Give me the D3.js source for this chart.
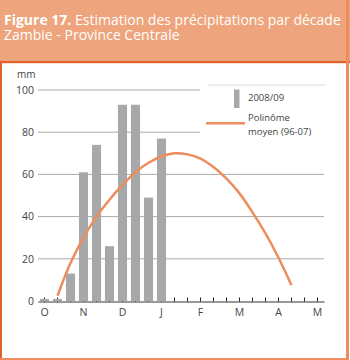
<!DOCTYPE html>
<html><head><meta charset="utf-8">
<script src="https://cdn.jsdelivr.net/npm/d3@7"></script>
<style>body{margin:0;background:#fff}svg{display:block}</style>
</head><body>
<script>
const dekads = ["O1","O2","O3","N1","N2","N3","D1","D2","D3","J1","J2","J3","F1","F2","F3","M1","M2","M3","A1","A2","A3","M1b"];
const monthLabels = {"O1":"O","N1":"N","D1":"D","J1":"J","F1":"F","M1":"M","A1":"A","M1b":"M"};
const rain2008 = [1,1,13,61,74,26,93,93,49,77,null,null,null,null,null,null,null,null,null,null,null,null];
const polyAvg = [null,2.5,18,30,40,48,55,61,65.5,68.5,70,69.5,67.5,63.5,58,51,42,32,20.5,7.5,null,null];
const yTicks = [0,20,40,60,80,100];
const titleBold = "Figure 17.";
const titleRest = " Estimation des précipitations par décade";
const titleLine2 = "Zambie - Province Centrale";
const legendLabels = ["2008/09","Polinôme","moyen (96-07)"];

const W=350,H=360;
const svg=d3.select("body").append("svg").attr("width",W).attr("height",H);
const font="'Open Sans', 'Noto Sans', sans-serif";

// header
svg.append("rect").attr("x",0).attr("y",0).attr("width",W).attr("height",62).attr("fill","#EEA47C");
// panel borders
svg.append("rect").attr("x",0).attr("y",61).attr("width",W).attr("height",2.2).attr("fill","#E0622C");
svg.append("rect").attr("x",0).attr("y",61).attr("width",2).attr("height",H-61).attr("fill","#E0622C");
svg.append("rect").attr("x",346).attr("y",0).attr("width",3).attr("height",H).attr("fill","#EE8D5C");
svg.append("rect").attr("x",0).attr("y",358).attr("width",349).attr("height",2).attr("fill","#EE8D5C");

const t1=svg.append("text").attr("x",4).attr("y",25).attr("fill","#fff").style("font-family",font).style("font-size","14px");
t1.append("tspan").attr("font-weight","bold").text(titleBold);
t1.append("tspan").text(titleRest);
t1.append("tspan").attr("x",4).attr("dy",15).text(titleLine2);

const x=d3.scaleBand().domain(dekads).range([38,324]).paddingInner(0.3).paddingOuter(0.15);
const y=d3.scaleLinear().domain([0,100]).range([301,90]);

// gridlines
svg.append("g").selectAll("line").data(yTicks.filter(d=>d>0)).join("line")
  .attr("x1",38).attr("x2",324).attr("y1",d=>y(d)).attr("y2",d=>y(d))
  .attr("stroke","#ababab").attr("stroke-width",1);

// y axis labels
const ya=svg.append("g").attr("transform","translate(38,0)")
  .call(d3.axisLeft(y).tickValues(yTicks).tickSize(0).tickPadding(4));
ya.select(".domain").remove();
ya.selectAll("text").style("font-family",font).style("font-size","10.5px").attr("fill","#444");
svg.append("text").attr("x",17).attr("y",78).style("font-family",font).style("font-size","10px").attr("fill","#444").text("mm");

// x axis
const xa=svg.append("g").attr("transform","translate(0,301.5)")
  .call(d3.axisBottom(x).tickSizeInner(-4).tickSizeOuter(0).tickPadding(7).tickFormat(d=>monthLabels[d]||""));
xa.select(".domain").attr("stroke","#333");
xa.selectAll(".tick line").attr("stroke","#222");
xa.selectAll("text").style("font-family",font).style("font-size","10.5px").attr("fill","#444");

// bars
svg.append("g").selectAll("rect").data(dekads.map((d,i)=>({d,v:rain2008[i]})).filter(e=>e.v!=null)).join("rect")
  .attr("x",e=>x(e.d)).attr("width",x.bandwidth()).attr("y",e=>y(e.v)).attr("height",e=>y(0)-y(e.v))
  .attr("fill","#A7A8AA");

// legend box
svg.append("rect").attr("x",200).attr("y",85).attr("width",126).attr("height",58).attr("fill","#fff");
svg.append("line").attr("x1",208).attr("x2",325).attr("y1",85).attr("y2",85).attr("stroke","#ddd");
svg.append("rect").attr("x",234).attr("y",89.5).attr("width",5.5).attr("height",18.5).attr("fill","#A7A8AA");
svg.append("line").attr("x1",206).attr("x2",245).attr("y1",123.3).attr("y2",123.3).attr("stroke","#EE8D5C").attr("stroke-width",2.5);
const lg=[[legendLabels[0],101],[legendLabels[1],121.3],[legendLabels[2],135.3]];
svg.append("g").selectAll("text").data(lg).join("text").attr("x",248).attr("y",d=>d[1])
  .style("font-family",font).style("font-size","9.5px").attr("fill","#444").text(d=>d[0]);

// curve
const pts=dekads.map((d,i)=>({d,v:polyAvg[i]})).filter(e=>e.v!=null);
svg.append("path").datum(pts)
  .attr("d",d3.line().x(e=>x(e.d)+x.bandwidth()/2).y(e=>y(e.v)).curve(d3.curveCatmullRom))
  .attr("fill","none").attr("stroke","#EE8D5C").attr("stroke-width",2.5);
</script>
</body></html>
